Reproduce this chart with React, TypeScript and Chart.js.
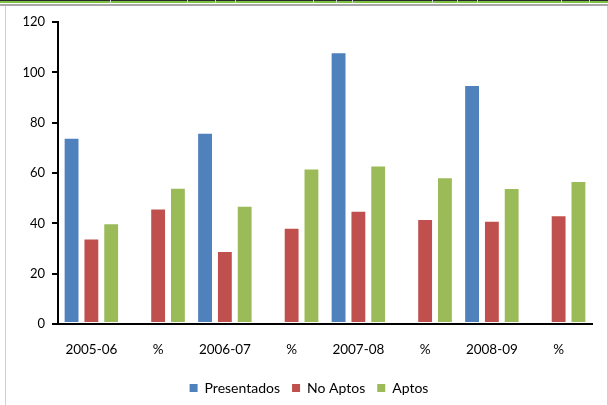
import React, { useEffect, useRef } from "react";
import { Chart, registerables } from "chart.js";

Chart.register(...registerables);

// Academic years and the percentage columns that follow each one
const categories = ["2005-06", "%", "2006-07", "%", "2007-08", "%", "2008-09", "%"];
const presentados: (number | null)[] = [74, null, 76, null, 108, null, 95, null];
const noAptos = [34, 45.9, 29, 38.2, 45, 41.7, 41, 43.2];
const aptos = [40, 54.1, 47, 61.8, 63, 58.3, 54, 56.8];

const Y_MIN = 0;
const Y_MAX = 120;
const Y_STEP = 20;

const FONT = "Lato, 'Open Sans', sans-serif";
const BLUE = "#4F81BD";
const RED = "#C0504D";
const GREEN = "#9BBB59";

// Worksheet column edges visible in the strip above the chart object
const SHEET_COLUMN_EDGES = [110, 187, 215, 235, 313, 336, 352, 432, 457, 477, 561, 589];

const sheetFrame = {
  id: "sheetFrame",
  beforeDraw(chart: any) {
    const { ctx, width, height } = chart;
    ctx.save();
    ctx.fillStyle = "#ffffff";
    ctx.fillRect(0, 0, width, height);
    ctx.fillStyle = "#2b2b2b";
    ctx.fillRect(0, 0, width, 1);
    ctx.fillStyle = "#7cc242";
    ctx.fillRect(0, 1, width, 2);
    ctx.fillStyle = "#d0d0d0";
    for (const x of SHEET_COLUMN_EDGES) ctx.fillRect(x, 0, 1, 3);
    ctx.fillStyle = "#a8a8a8";
    ctx.fillRect(0, 4, width, 2);
    ctx.fillStyle = "#c5d3e4";
    ctx.fillRect(5, 6, 1, height - 6);
    ctx.fillRect(width - 1, 6, 1, height - 6);
    ctx.restore();
  },
};

// Centres the legend on the whole chart object rather than the padded box
const legendPlacement = {
  id: "legendPlacement",
  afterLayout(chart: any) {
    const lg = chart.legend;
    if (!lg) return;
    lg.left = 0;
    lg.right = 618;
  },
};

export default function App() {
  const canvasRef = useRef<HTMLCanvasElement | null>(null);

  useEffect(() => {
    const canvas = canvasRef.current;
    if (!canvas) return;

    const barStyle = {
      borderWidth: 1,
      borderColor: "rgba(255,255,255,0.45)",
      borderSkipped: false as const,
      categoryPercentage: 0.89,
      barPercentage: 0.8,
    };

    const chart = new Chart(canvas, {
      type: "bar",
      data: {
        labels: categories,
        datasets: [
          { label: "Presentados", data: presentados, backgroundColor: BLUE, ...barStyle },
          { label: "No Aptos", data: noAptos, backgroundColor: RED, ...barStyle },
          { label: "Aptos", data: aptos, backgroundColor: GREEN, ...barStyle },
        ],
      },
      options: {
        responsive: false,
        maintainAspectRatio: false,
        animation: false,
        devicePixelRatio: 1,
        layout: { padding: { left: 0, right: 16, top: 22, bottom: 0 } },
        scales: {
          x: {
            type: "category",
            ticks: {
              autoSkip: false,
              maxRotation: 0,
              padding: 18,
              color: "#000000",
              font: { family: FONT, size: 13.5 },
            },
            grid: { display: false, drawTicks: false },
            border: { display: true, color: "#000000", width: 2 },
            afterFit: (s: any) => {
              s.height = 45;
            },
          },
          y: {
            min: Y_MIN,
            max: Y_MAX,
            ticks: {
              stepSize: Y_STEP,
              padding: 7,
              color: "#000000",
              font: { family: FONT, size: 13 },
            },
            grid: {
              display: true,
              drawOnChartArea: false,
              drawTicks: true,
              tickLength: 6,
              color: "#000000",
              lineWidth: 2,
            },
            border: { display: true, color: "#000000", width: 2 },
            afterFit: (s: any) => {
              s.width = 58;
            },
          },
        },
        plugins: {
          tooltip: { enabled: false },
          legend: {
            position: "bottom",
            labels: {
              boxWidth: 8,
              boxHeight: 8,
              padding: 12,
              color: "#000000",
              font: { family: FONT, size: 14 },
              generateLabels: (c: any) =>
                Chart.defaults.plugins.legend.labels
                  .generateLabels(c)
                  .map((item: any) => ({ ...item, lineWidth: 0, strokeStyle: item.fillStyle })),
            },
          },
        },
      },
      plugins: [sheetFrame, legendPlacement],
    } as any);

    return () => chart.destroy();
  }, []);

  return (
    <div style={{ position: "fixed", left: 0, top: 0, width: 608, height: 405, background: "#fff" }}>
      <canvas ref={canvasRef} width={608} height={405} style={{ display: "block" }} />
    </div>
  );
}
